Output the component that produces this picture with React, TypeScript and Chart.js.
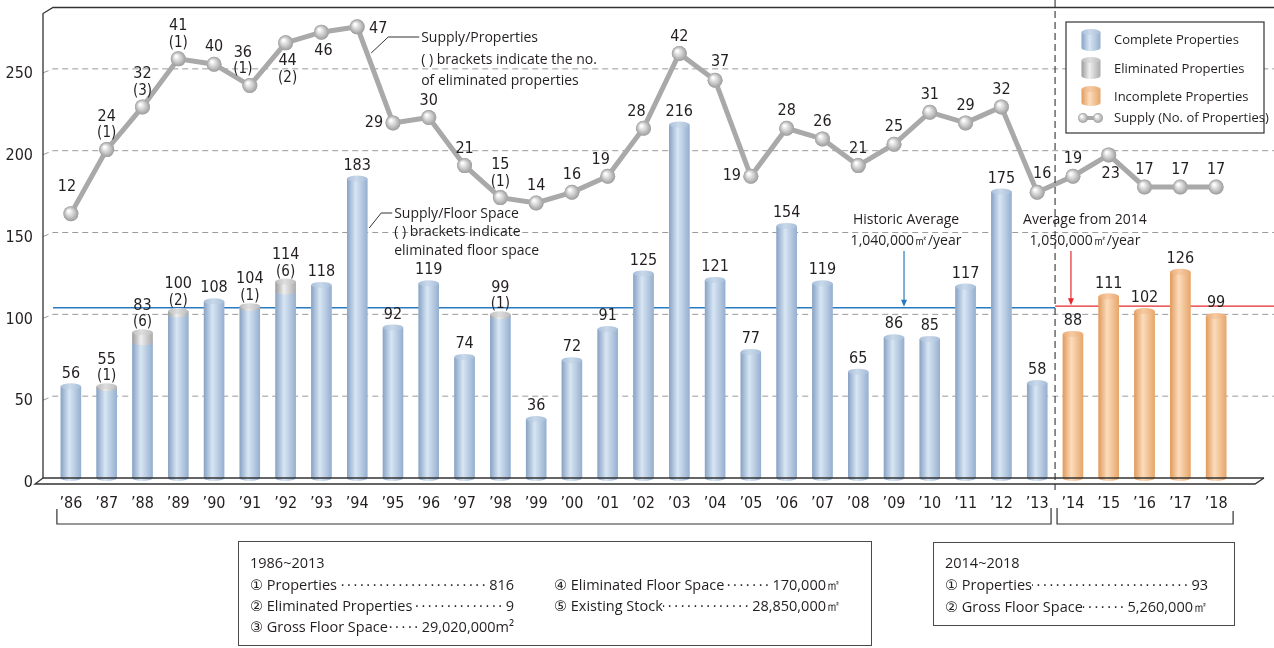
import React, { useEffect, useRef } from 'react';
import { Chart, registerables } from 'chart.js';

Chart.register(...registerables);

// ---------------- DATA ----------------
const years = ['’86', '’87', '’88', '’89', '’90', '’91', '’92', '’93', '’94', '’95', '’96', '’97', '’98', '’99', '’00', '’01', '’02', '’03', '’04', '’05', '’06', '’07', '’08', '’09', '’10', '’11', '’12', '’13', '’14', '’15', '’16', '’17', '’18'];

// Supply / floor space (10,000 m²)
const completeFloor = [56, 55, 83, 100, 108, 104, 114, 118, 183, 92, 119, 74, 99, 36, 72, 91, 125, 216, 121, 77, 154, 119, 65, 86, 85, 117, 175, 58, null, null, null, null, null];
const eliminatedFloor = [null, 1, 6, 2, null, 1, 6, null, null, null, null, null, 1, null, null, null, null, null, null, null, null, null, null, null, null, null, null, null, null, null, null, null, null];
const incompleteFloor = [null, null, null, null, null, null, null, null, null, null, null, null, null, null, null, null, null, null, null, null, null, null, null, null, null, null, null, null, 88, 111, 102, 126, 99];

// Supply / number of properties
const supplyCount = [12, 24, 32, 41, 40, 36, 44, 46, 47, 29, 30, 21, 15, 14, 16, 19, 28, 42, 37, 19, 28, 26, 21, 25, 31, 29, 32, 16, 19, 23, 17, 17, 17];
const eliminatedCount = [null, 1, 3, 1, null, 1, 2, null, null, null, null, null, 1, null, null, null, null, null, null, null, null, null, null, null, null, null, null, null, null, null, null, null, null];

// where each supply label sits relative to its point
const supplyLabelPos = ['hi', 'a', 'a', 'a', 'a', 'al', 'b', 'b', 'r', 'l', 'a', 'a', 'a', 'a', 'a', 'al', 'al', 'a', 'ar', 'l', 'a', 'a', 'a', 'a', 'a', 'a', 'a', 'ar', 'a', 'b', 'a', 'a', 'a'];

const yTickValues = [0, 50, 100, 150, 200, 250];
const historicAverage = 104; // 1,040,000 m²/year
const averageFrom2014 = 105; // 1,050,000 m²/year
const splitIndex = 28; // first year of the 2014~ period

const period1Title = '1986~2013';
const period1Left = [
  ['① Properties', '816'],
  ['② Eliminated Properties', '9'],
  ['③ Gross Floor Space', '29,020,000m²'],
];
const period1Right = [
  ['④ Eliminated Floor Space', '170,000㎡'],
  ['⑤ Existing Stock ', '28,850,000㎡'],
];
const period2Title = '2014~2018';
const period2Rows = [
  ['① Properties', '93'],
  ['② Gross Floor Space ', '5,260,000㎡'],
];

// ---------------- STYLE ----------------
const NUM_FONT = "'Liberation Sans Narrow', 'DejaVu Sans Condensed', 'Roboto', sans-serif";
const TXT_FONT = "'Open Sans', 'Noto Sans', 'DejaVu Sans', sans-serif";
const INK = '#231f20';

const PAL = {
  complete: { e1: '#88a2c4', l: '#d8e6f4', e2: '#96afcf', cap: '#a7bed9', capL: '#c9d9ea' },
  eliminated: { e1: '#9b9b9b', l: '#efefef', e2: '#ababab', cap: '#bdbdbd', capL: '#dedede' },
  incomplete: { e1: '#e09a5a', l: '#fcdcbd', e2: '#e6a66a', cap: '#eaa873', capL: '#f6cba3' },
};

function drawCylinder(ctx: CanvasRenderingContext2D, x: number, top: number, base: number, w: number, pal: any) {
  const l = x - w / 2;
  const r = x + w / 2;
  const ry = 3;
  const g = ctx.createLinearGradient(l, 0, r, 0);
  g.addColorStop(0, pal.e1);
  g.addColorStop(0.42, pal.l);
  g.addColorStop(1, pal.e2);
  ctx.save();
  ctx.fillStyle = g;
  ctx.beginPath();
  ctx.moveTo(l, top);
  ctx.lineTo(l, base);
  ctx.ellipse(x, base, w / 2, ry, 0, Math.PI, 0, true);
  ctx.lineTo(r, top);
  ctx.closePath();
  ctx.fill();
  const cg = ctx.createLinearGradient(l, 0, r, 0);
  cg.addColorStop(0, pal.cap);
  cg.addColorStop(0.45, pal.capL);
  cg.addColorStop(1, pal.cap);
  ctx.fillStyle = cg;
  ctx.beginPath();
  ctx.ellipse(x, top, w / 2, ry, 0, 0, Math.PI * 2);
  ctx.fill();
  ctx.restore();
}

function drawSphere(ctx: CanvasRenderingContext2D, x: number, y: number, r: number) {
  const g = ctx.createRadialGradient(x - r * 0.3, y - r * 0.35, r * 0.1, x, y, r);
  g.addColorStop(0, '#ffffff');
  g.addColorStop(0.45, '#d4d4d4');
  g.addColorStop(1, '#9c9c9c');
  ctx.save();
  ctx.fillStyle = g;
  ctx.beginPath();
  ctx.arc(x, y, r, 0, Math.PI * 2);
  ctx.fill();
  ctx.restore();
}

function text(ctx: CanvasRenderingContext2D, s: string, x: number, y: number, font: string, align: CanvasTextAlign = 'center', color = INK) {
  ctx.save();
  ctx.font = font;
  ctx.fillStyle = color;
  ctx.textAlign = align;
  ctx.textBaseline = 'middle';
  ctx.fillText(s, x, y);
  ctx.restore();
}

function line(ctx: CanvasRenderingContext2D, pts: number[][], color = '#333', width = 1, dash: number[] = []) {
  ctx.save();
  ctx.strokeStyle = color;
  ctx.lineWidth = width;
  ctx.setLineDash(dash);
  ctx.beginPath();
  pts.forEach((p, i) => (i ? ctx.lineTo(p[0], p[1]) : ctx.moveTo(p[0], p[1])));
  ctx.stroke();
  ctx.restore();
}

function arrowDown(ctx: CanvasRenderingContext2D, x: number, y0: number, y1: number, color: string) {
  line(ctx, [[x, y0], [x, y1 - 5]], color, 1.2);
  ctx.save();
  ctx.fillStyle = color;
  ctx.beginPath();
  ctx.moveTo(x - 3, y1 - 7);
  ctx.lineTo(x + 3, y1 - 7);
  ctx.lineTo(x, y1);
  ctx.closePath();
  ctx.fill();
  ctx.restore();
}

const decorPlugin = {
  id: 'decor',
  beforeDatasetsDraw(chart: any) {
    const ctx = chart.ctx as CanvasRenderingContext2D;
    const ys = chart.scales.y;
    const xs = chart.scales.x;
    const W = chart.width;
    const left = chart.chartArea.left;
    // dashed grid on the back wall
    yTickValues.forEach((v) => {
      if (v === 0) return;
      const y = ys.getPixelForValue(v);
      line(ctx, [[left - 10, y + 4], [left, y], [W, y]], '#9a9a9a', 1, [6, 4]);
    });
    // average lines
    const sepX = (xs.getPixelForValue(splitIndex - 1) + xs.getPixelForValue(splitIndex)) / 2;
    line(ctx, [[left, ys.getPixelForValue(historicAverage)], [sepX, ys.getPixelForValue(historicAverage)]], '#2a7ac0', 1.4);
    line(ctx, [[sepX, ys.getPixelForValue(averageFrom2014)], [W, ys.getPixelForValue(averageFrom2014)]], '#e52a2f', 1.4);
  },
  afterDatasetDraw(chart: any, args: any) {
    const ctx = chart.ctx as CanvasRenderingContext2D;
    const ds = chart.data.datasets[args.index];
    const drawMeta = (idx: number, pal: any) => {
      const meta = chart.getDatasetMeta(idx);
      const data = chart.data.datasets[idx].data;
      meta.data.forEach((el: any, i: number) => {
        if (data[i] == null) return;
        drawCylinder(ctx, el.x, el.y, el.base, el.width, pal);
      });
    };
    if (ds.key === 'complete') {
      drawMeta(args.index, PAL.complete);
      const ei = chart.data.datasets.findIndex((d: any) => d.key === 'eliminated');
      drawMeta(ei, PAL.eliminated);
    } else if (ds.key === 'incomplete') {
      drawMeta(args.index, PAL.incomplete);
    } else if (ds.key === 'supply') {
      const meta = chart.getDatasetMeta(args.index);
      meta.data.forEach((el: any) => drawSphere(ctx, el.x, el.y, 7.5));
    }
  },
  afterDatasetsDraw(chart: any) {
    const ctx = chart.ctx as CanvasRenderingContext2D;
    const ys = chart.scales.y;
    const xs = chart.scales.x;
    const numF = `16px ${NUM_FONT}`;
    const brF = `15px ${NUM_FONT}`;
    // bar labels
    years.forEach((_, i) => {
      const v = completeFloor[i] ?? incompleteFloor[i];
      if (v == null) return;
      const e = eliminatedFloor[i];
      const x = xs.getPixelForValue(i);
      const top = ys.getPixelForValue(v + (e ?? 0));
      if (e != null) {
        text(ctx, `(${e})`, x, top - 10, brF);
        text(ctx, String(v), x, top - 27, numF);
      } else {
        text(ctx, String(v), x, top - 13, numF);
      }
    });
    // supply labels
    const meta = chart.getDatasetMeta(chart.data.datasets.findIndex((d: any) => d.key === 'supply'));
    meta.data.forEach((el: any, i: number) => {
      const v = supplyCount[i];
      const e = eliminatedCount[i];
      const pos = supplyLabelPos[i];
      let dx = 0;
      let dy = -17;
      if (pos === 'b') { dx = 2; dy = 19; }
      if (pos === 'l') { dx = -19; dy = 0; }
      if (pos === 'r') { dx = 21; dy = 2; }
      if (pos === 'al') { dx = -7; dy = -16; }
      if (pos === 'ar') { dx = 5; dy = -18; }
      if (pos === 'hi') { dx = -4; dy = -27; }
      if (e != null) {
        if (pos === 'b') {
          text(ctx, String(v), el.x + dx, el.y + 18, numF);
          text(ctx, `(${e})`, el.x + dx, el.y + 35, brF);
        } else {
          text(ctx, String(v), el.x + dx, el.y - 33, numF);
          text(ctx, `(${e})`, el.x + dx, el.y - 16, brF);
        }
      } else {
        text(ctx, String(v), el.x + dx, el.y + dy, numF);
      }
    });
  },
  afterDraw(chart: any) {
    const ctx = chart.ctx as CanvasRenderingContext2D;
    const ys = chart.scales.y;
    const xs = chart.scales.x;
    const { left, top, bottom } = chart.chartArea;
    const W = chart.width;
    const txtF = `14px ${TXT_FONT}`;
    // 3D frame
    line(ctx, [[left - 10, bottom], [left - 10, top + 6], [left, top], [W, top]], '#333', 1.3);
    line(ctx, [[left - 10, bottom], [1264, bottom]], '#333', 1.3);
    line(ctx, [[left - 10, bottom], [left - 18, bottom + 6], [1255, bottom + 6], [1264, bottom]], '#333', 1.3);
    // separator
    const sepX = (xs.getPixelForValue(splitIndex - 1) + xs.getPixelForValue(splitIndex)) / 2;
    line(ctx, [[sepX, 0], [sepX, bottom + 12]], '#333', 1.1, [7, 4]);
    // period brackets
    const bY = 524;
    line(ctx, [[xs.getPixelForValue(0) - 14, bY - 15], [xs.getPixelForValue(0) - 14, bY], [sepX - 4, bY], [sepX - 4, bY - 16]], '#333', 1.2);
    line(ctx, [[sepX + 2, bY - 16], [sepX + 2, bY], [xs.getPixelForValue(years.length - 1) + 17, bY], [xs.getPixelForValue(years.length - 1) + 17, bY - 13]], '#333', 1.2);
    // averages annotation
    const hx = xs.getPixelForValue(23) + 12;
    text(ctx, 'Historic Average', hx, 220, txtF);
    text(ctx, '1,040,000㎡/year', hx, 241, txtF);
    arrowDown(ctx, hx - 2, 251, ys.getPixelForValue(historicAverage) - 1, '#2a7ac0');
    const ax = xs.getPixelForValue(splitIndex) + 12;
    text(ctx, 'Average from 2014', ax, 220, txtF);
    text(ctx, '1,050,000㎡/year', ax, 241, txtF);
    arrowDown(ctx, xs.getPixelForValue(splitIndex) - 2, 251, ys.getPixelForValue(averageFrom2014) - 1, '#e52a2f');
    // leader notes
    const x94 = xs.getPixelForValue(8);
    line(ctx, [[x94 + 14, 53], [x94 + 31, 37], [x94 + 62, 37]], '#333', 1);
    text(ctx, 'Supply/Properties', x94 + 64, 38, txtF, 'left');
    text(ctx, '( ) brackets indicate the no.', x94 + 64, 60, txtF, 'left');
    text(ctx, 'of eliminated properties', x94 + 64, 81, txtF, 'left');
    line(ctx, [[x94 + 12, 228], [x94 + 24, 213], [x94 + 35, 213]], '#333', 1);
    text(ctx, 'Supply/Floor Space', x94 + 37, 214, txtF, 'left');
    text(ctx, '( ) brackets indicate', x94 + 37, 232, txtF, 'left');
    text(ctx, 'eliminated floor space', x94 + 37, 251, txtF, 'left');
    // legend
    ctx.save();
    ctx.fillStyle = '#fff';
    ctx.fillRect(1066, 22, 198, 111);
    ctx.strokeStyle = '#333';
    ctx.lineWidth = 1.2;
    ctx.strokeRect(1066, 22, 198, 111);
    ctx.restore();
    const legF = `13px ${TXT_FONT}`;
    drawCylinder(ctx, 1091, 32, 48, 19, PAL.complete);
    text(ctx, 'Complete Properties', 1114, 40, legF, 'left');
    drawCylinder(ctx, 1091, 60, 76, 19, PAL.eliminated);
    text(ctx, 'Eliminated Properties', 1114, 69, legF, 'left');
    drawCylinder(ctx, 1091, 89, 103, 19, PAL.incomplete);
    text(ctx, 'Incomplete Properties', 1114, 97, legF, 'left');
    line(ctx, [[1083, 118], [1098, 118]], '#a8a8a8', 4);
    drawSphere(ctx, 1083, 118, 5);
    drawSphere(ctx, 1098, 118, 5);
    text(ctx, 'Supply (No. of Properties)', 1114, 118, legF, 'left');
  },
};

function Row({ x, y, w, label, value }: { x: number; y: number; w: number; label: string; value: string }) {
  return (
    <div style={{ position: 'absolute', left: x, top: y - 11, width: w, height: 22, display: 'flex', whiteSpace: 'nowrap', font: `14.5px ${TXT_FONT}`, lineHeight: '22px', color: INK }}>
      <span>{label}</span>
      <span style={{ flex: 1, overflow: 'hidden', letterSpacing: '2.6px', padding: '0 1px', textAlign: 'right', direction: 'rtl' }}>{'·'.repeat(80)}</span>
      <span>{value}</span>
    </div>
  );
}

export default function App() {
  const ref = useRef<HTMLCanvasElement | null>(null);
  useEffect(() => {
    if (!ref.current) return;
    const chart = new Chart(ref.current, {
      type: 'bar',
      data: {
        labels: years,
        datasets: [
          { key: 'supply', type: 'line', label: 'Supply (No. of Properties)', data: supplyCount, yAxisID: 'y2', borderColor: '#a9a9a9', borderWidth: 5, pointRadius: 7.5, pointBackgroundColor: '#c8c8c8', pointBorderWidth: 0, tension: 0, order: 0 } as any,
          { key: 'complete', label: 'Complete Properties', data: completeFloor, backgroundColor: '#a7bed9', borderWidth: 0, barPercentage: 0.57, categoryPercentage: 1, order: 1 } as any,
          { key: 'eliminated', label: 'Eliminated Properties', data: eliminatedFloor, backgroundColor: '#c4c4c4', borderWidth: 0, barPercentage: 0.57, categoryPercentage: 1, order: 2 } as any,
          { key: 'incomplete', label: 'Incomplete Properties', data: incompleteFloor, backgroundColor: '#eaa873', borderWidth: 0, barPercentage: 0.57, categoryPercentage: 1, order: 3 } as any,
        ],
      },
      options: {
        responsive: false,
        animation: false,
        layout: { padding: { left: 0, right: 40, top: 5, bottom: 130 } },
        plugins: { legend: { display: false }, tooltip: { enabled: false } },
        scales: {
          x: {
            stacked: true,
            offset: true,
            grid: { display: false, drawTicks: false },
            border: { display: false },
            ticks: { font: { family: NUM_FONT, size: 16 }, color: INK, padding: 16, maxRotation: 0, autoSkip: false },
            afterFit: (s: any) => { s.height = 40; s.paddingLeft = 0; s.paddingRight = 0; },
          },
          y: {
            stacked: true,
            min: 0,
            max: 287.5,
            grid: { display: false, drawTicks: false },
            border: { display: false },
            ticks: { stepSize: 50, padding: 20, labelOffset: 5, font: { family: NUM_FONT, size: 16 }, color: INK },
            afterBuildTicks: (s: any) => { s.ticks = s.ticks.filter((t: any) => yTickValues.includes(t.value)); },
            afterFit: (s: any) => { s.width = 53; s.paddingTop = 0; s.paddingBottom = 0; },
          },
          y2: { type: 'linear', display: false, min: -37.53, max: 50.62 },
        },
      } as any,
      plugins: [decorPlugin],
    });
    return () => chart.destroy();
  }, []);

  return (
    <div style={{ position: 'absolute', left: 0, top: 0, width: 1274, height: 648, overflow: 'hidden', background: '#fff' }}>
      <canvas ref={ref} width={1274} height={648} style={{ position: 'absolute', left: 0, top: 0 }} />
      <div style={{ position: 'absolute', left: 238, top: 541, width: 634, height: 105, border: '1px solid #4a4a4a', boxSizing: 'border-box' }} />
      <div style={{ position: 'absolute', left: 250, top: 552, font: `14.5px ${TXT_FONT}`, lineHeight: '22px', color: INK }}>{period1Title}</div>
      {period1Left.map((r, i) => (
        <Row key={'a' + i} x={250} y={585 + i * 21} w={264} label={r[0]} value={r[1]} />
      ))}
      {period1Right.map((r, i) => (
        <Row key={'b' + i} x={554} y={585 + i * 21} w={287} label={r[0]} value={r[1]} />
      ))}
      <div style={{ position: 'absolute', left: 933, top: 542, width: 302, height: 84, border: '1px solid #4a4a4a', boxSizing: 'border-box' }} />
      <div style={{ position: 'absolute', left: 945, top: 552, font: `14.5px ${TXT_FONT}`, lineHeight: '22px', color: INK }}>{period2Title}</div>
      {period2Rows.map((r, i) => (
        <Row key={'c' + i} x={945} y={585 + i * 22} w={263} label={r[0]} value={r[1]} />
      ))}
    </div>
  );
}
